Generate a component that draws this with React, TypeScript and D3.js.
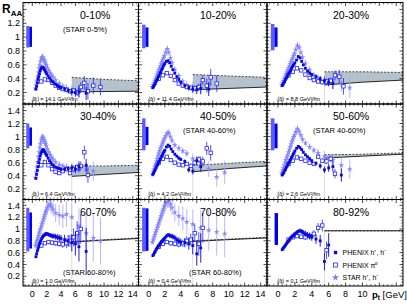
import * as d3 from 'd3';

// pixel edges of the 3x3 pad frames
const colEdges = [23, 138.5, 267, 403];
const rowEdges = [2.5, 104, 199.5, 286];
const xDomain: [number, number] = [-1.3, 14.8];
const yDomain: [number, number] = [0.035, 1.5];

const centralities = ['0-10%', '10-20%', '20-30%', '30-40%', '40-50%', '50-60%', '60-70%', '70-80%', '80-92%'];
const starLabels = ['(STAR 0-5%)', null, null, null, '(STAR 40-60%)', '(STAR 40-60%)', '(STAR 60-80%)', '(STAR 60-80%)', null];
const qhatValues = ['14.1', '11.4', '8.8', '6.4', '4.2', '2.6', '1.0', '0.4', '0.1'];

// PHENIX h+, h- (filled squares)
const hPt = [0.5, 0.6, 0.7, 0.8, 0.9, 1.0, 1.1, 1.2, 1.3, 1.4, 1.5, 1.6, 1.7, 1.8, 1.9, 2.0, 2.2, 2.4, 2.6, 2.8, 3.0, 3.25, 3.5, 3.75, 4.0, 4.5, 5.0, 5.5, 6.0, 6.5, 7.5];
const h00_10 = [0.25, 0.29, 0.34, 0.39, 0.43, 0.47, 0.51, 0.54, 0.56, 0.57, 0.56, 0.55, 0.53, 0.51, 0.49, 0.47, 0.44, 0.41, 0.38, 0.36, 0.34, 0.32, 0.30, 0.28, 0.27, 0.25, 0.23, 0.21, 0.20, 0.21, 0.19];
const h10_20 = [0.27, 0.29, 0.31, 0.33, 0.36, 0.38, 0.40, 0.43, 0.45, 0.48, 0.50, 0.53, 0.55, 0.58, 0.60, 0.62, 0.65, 0.66, 0.63, 0.58, 0.53, 0.48, 0.43, 0.39, 0.35, 0.30, 0.27, 0.25, 0.24, 0.26, 0.25];
const h20_30 = [0.30, 0.32, 0.34, 0.36, 0.39, 0.41, 0.43, 0.46, 0.48, 0.50, 0.52, 0.55, 0.57, 0.59, 0.61, 0.63, 0.67, 0.72, 0.70, 0.65, 0.60, 0.55, 0.51, 0.48, 0.46, 0.43, 0.40, 0.37, 0.35, 0.33, null];
const h30_40 = [0.36, 0.42, 0.48, 0.54, 0.60, 0.65, 0.70, 0.74, 0.77, 0.79, 0.80, 0.79, 0.77, 0.75, 0.73, 0.71, 0.67, 0.63, 0.60, 0.57, 0.55, 0.53, 0.52, 0.51, 0.50, 0.50, 0.51, 0.52, 0.50, 0.54, 0.56];
const h40_50 = [0.42, 0.44, 0.47, 0.49, 0.52, 0.55, 0.57, 0.60, 0.62, 0.65, 0.67, 0.70, 0.72, 0.75, 0.77, 0.79, 0.84, 0.87, 0.85, 0.81, 0.77, 0.73, 0.70, 0.67, 0.65, 0.62, 0.49, 0.47, 0.63, 0.54, null];
const h50_60 = [0.41, 0.43, 0.45, 0.48, 0.50, 0.53, 0.55, 0.58, 0.60, 0.63, 0.65, 0.68, 0.70, 0.73, 0.75, 0.78, 0.82, 0.85, 0.83, 0.80, 0.76, 0.72, 0.69, 0.66, 0.63, 0.59, 0.55, 0.49, 0.52, 0.54, 0.41];
const h60_70 = [0.53, 0.58, 0.63, 0.67, 0.71, 0.75, 0.78, 0.81, 0.84, 0.86, 0.88, 0.89, 0.90, 0.91, 0.92, 0.92, 0.91, 0.90, 0.89, 0.88, 0.88, 0.87, 0.86, 0.85, 0.84, 0.82, 0.80, 0.77, 0.75, 0.70, 0.62];
const h70_80 = [0.55, 0.57, 0.60, 0.62, 0.65, 0.67, 0.69, 0.71, 0.73, 0.75, 0.77, 0.79, 0.80, 0.82, 0.83, 0.85, 0.88, 0.90, 0.89, 0.88, 0.87, 0.85, 0.82, 0.80, 0.78, 0.77, 0.75, 0.72, 0.58, 0.68, null];
const h80_92 = [0.65, 0.67, 0.69, 0.71, 0.73, 0.75, 0.77, 0.79, 0.81, 0.83, 0.85, 0.86, 0.88, 0.89, 0.90, 0.92, 0.94, 0.96, 0.97, 0.96, 0.94, 0.92, 0.90, 0.88, 0.86, 0.83, 0.80, 0.45, 0.73, null, null];
const hErrCentral = [0.01, 0.01, 0.01, 0.01, 0.01, 0.01, 0.01, 0.01, 0.01, 0.01, 0.01, 0.01, 0.01, 0.01, 0.01, 0.012, 0.012, 0.015, 0.015, 0.015, 0.02, 0.02, 0.02, 0.025, 0.025, 0.03, 0.04, 0.05, 0.06, 0.08, 0.1];
const hErrPeriph = [0.02, 0.02, 0.02, 0.02, 0.02, 0.02, 0.02, 0.02, 0.02, 0.025, 0.025, 0.025, 0.03, 0.03, 0.03, 0.03, 0.035, 0.035, 0.04, 0.04, 0.045, 0.05, 0.05, 0.06, 0.06, 0.08, 0.1, 0.15, 0.2, 0.25, 0.4];

// STAR h+, h- (stars)
const starPt = [0.45, 0.55, 0.65, 0.75, 0.85, 0.95, 1.05, 1.15, 1.25, 1.35, 1.45, 1.55, 1.65, 1.75, 1.85, 1.95, 2.1, 2.3, 2.5, 2.7, 2.9, 3.25, 3.75, 4.25, 4.75, 5.5, 6.5, 7.5, 8.5, 9.5];
const star00_10 = [0.26, 0.31, 0.37, 0.43, 0.49, 0.55, 0.60, 0.65, 0.69, 0.71, 0.71, 0.69, 0.67, 0.65, 0.62, 0.60, 0.56, 0.52, 0.48, 0.45, 0.42, 0.38, 0.33, 0.29, 0.26, 0.23, 0.22, null, null, null];
const star10_20 = [0.28, 0.31, 0.34, 0.37, 0.40, 0.43, 0.46, 0.49, 0.52, 0.55, 0.58, 0.61, 0.64, 0.67, 0.70, 0.73, 0.78, 0.83, 0.78, 0.70, 0.63, 0.53, 0.44, 0.36, 0.31, 0.28, 0.27, 0.32, null, null];
const star20_30 = [0.31, 0.34, 0.37, 0.40, 0.43, 0.46, 0.49, 0.52, 0.55, 0.58, 0.61, 0.64, 0.67, 0.70, 0.73, 0.76, 0.82, 0.88, 0.85, 0.78, 0.71, 0.62, 0.53, 0.45, 0.40, 0.37, 0.36, 0.33, 0.27, null];
const star30_40 = [0.37, 0.45, 0.53, 0.61, 0.69, 0.76, 0.83, 0.89, 0.94, 0.98, 1.00, 0.98, 0.95, 0.92, 0.89, 0.86, 0.81, 0.76, 0.72, 0.68, 0.65, 0.61, 0.57, 0.55, 0.53, 0.52, 0.50, 0.49, 0.47, null];
const star40_50 = [0.42, 0.46, 0.50, 0.54, 0.58, 0.62, 0.66, 0.70, 0.74, 0.78, 0.82, 0.85, 0.88, 0.91, 0.94, 0.97, 1.01, 1.05, 1.06, 1.00, 0.94, 0.87, 0.82, 0.78, 0.74, 0.66, 0.60, 0.50, 0.38, 0.45];
const star50_60 = [0.44, 0.48, 0.52, 0.56, 0.60, 0.64, 0.68, 0.72, 0.76, 0.80, 0.84, 0.88, 0.92, 0.96, 0.99, 1.02, 1.07, 1.12, 1.08, 1.02, 0.96, 0.90, 0.84, 0.79, 0.75, 0.70, 0.64, 0.56, 0.50, null];
const star60_70 = [0.72, 0.76, 0.80, 0.84, 0.88, 0.92, 0.96, 1.00, 1.04, 1.08, 1.12, 1.16, 1.20, 1.24, 1.28, 1.31, 1.36, 1.40, 1.42, 1.38, 1.33, 1.27, 1.24, 1.22, 1.25, 1.20, 1.05, 0.93, 0.85, 0.80];
const star70_80 = [0.78, 0.82, 0.86, 0.90, 0.94, 0.98, 1.02, 1.06, 1.10, 1.14, 1.18, 1.22, 1.26, 1.30, 1.34, 1.38, 1.42, 1.46, 1.48, 1.42, 1.36, 1.28, 1.22, 1.18, 1.12, 1.08, 1.02, 0.98, 0.95, 0.92];
const star80_92: (number | null)[] = [];
const starErrCentral = [0.03, 0.03, 0.03, 0.035, 0.035, 0.04, 0.04, 0.045, 0.045, 0.05, 0.05, 0.05, 0.05, 0.05, 0.05, 0.05, 0.05, 0.05, 0.05, 0.05, 0.05, 0.05, 0.05, 0.05, 0.06, 0.08, 0.1, 0.12, 0.15, 0.18];
const starErrPeriph = [0.05, 0.05, 0.05, 0.06, 0.06, 0.06, 0.07, 0.07, 0.07, 0.08, 0.08, 0.08, 0.09, 0.09, 0.09, 0.1, 0.1, 0.1, 0.12, 0.12, 0.12, 0.15, 0.17, 0.2, 0.22, 0.25, 0.3, 0.35, 0.4, 0.4];

// PHENIX pi0 (open squares)
const piPt = [1.25, 1.75, 2.25, 2.75, 3.25, 3.75, 4.25, 4.75, 5.25, 5.75, 6.25, 6.75, 7.25, 7.75, 8.5, 9.5];
const pi00_10 = [0.36, 0.39, 0.38, 0.34, 0.30, 0.27, 0.25, 0.24, 0.22, 0.23, 0.20, 0.28, 0.34, 0.22, 0.30, 0.28];
const pi10_20 = [0.40, 0.45, 0.48, 0.44, 0.38, 0.33, 0.30, 0.28, 0.27, 0.26, 0.28, 0.38, 0.30, 0.42, 0.33, null];
const pi20_30 = [0.45, 0.50, 0.55, 0.52, 0.46, 0.41, 0.38, 0.36, 0.35, 0.36, 0.37, 0.45, 0.43, 0.29, null, null];
const pi30_40 = [0.56, 0.61, 0.56, 0.50, 0.46, 0.44, 0.47, 0.50, 0.44, 0.50, 0.53, 0.55, 0.76, 0.41, null, null];
const pi40_50 = [0.60, 0.66, 0.69, 0.64, 0.60, 0.57, 0.56, 0.58, 0.55, 0.60, 0.65, 0.62, 0.82, 0.75, null, null];
const pi50_60 = [0.58, 0.63, 0.68, 0.66, 0.63, 0.60, 0.58, 0.69, 0.63, 0.62, 0.66, 0.43, null, null, null, null];
const pi60_70 = [0.72, 0.76, 0.78, 0.77, 0.76, 0.75, 0.74, 0.76, 0.80, 0.86, 0.93, 1.00, null, null, null, null];
const pi70_80 = [0.70, 0.75, 0.78, 0.76, 0.75, 0.74, 0.76, 0.80, 0.82, 0.93, 0.75, 1.02, null, null, null, null];
const pi80_92 = [0.82, 0.86, 0.88, 0.87, 0.86, 0.88, 0.92, 1.02, 1.06, 0.64, null, null, null, null, null, null];
const piErrCentral = [0.015, 0.015, 0.015, 0.02, 0.02, 0.02, 0.025, 0.03, 0.035, 0.04, 0.05, 0.07, 0.1, 0.12, 0.12, 0.12];
const piErrPeriph = [0.03, 0.03, 0.035, 0.04, 0.045, 0.05, 0.06, 0.08, 0.1, 0.15, 0.2, 0.25, 0.3, 0.3, 0.3, 0.3];

// theory band (upper edge dashed, lower edge solid)
const bandPt = [5.5, 10, 14.8];
const bandTop = [[0.42, 0.39, 0.37], [0.46, 0.44, 0.42], [0.50, 0.50, 0.49], [0.55, 0.55, 0.56], [0.56, 0.59, 0.62], [0.72, 0.73, 0.75], [0.79, 0.82, 0.85], [0.80, 0.83, 0.86], [0.97, 0.97, 0.97]];
const bandBot = [[0.21, 0.215, 0.22], [0.24, 0.26, 0.28], [0.31, 0.35, 0.38], [0.39, 0.42, 0.45], [0.46, 0.51, 0.55], [0.67, 0.70, 0.73], [0.78, 0.81, 0.84], [0.79, 0.82, 0.85], [0.97, 0.97, 0.97]];

// normalisation uncertainty boxes at R_AA = 1
const normLightLo = [0.85, 0.84, 0.81, 0.82, 0.79, 0.79, 0.62, 0.62, null];
const normLightHi = [1.16, 1.18, 1.19, 1.2, 1.28, 1.28, 1.36, 1.36, null];
const normDarkLo = [0.86, 0.86, 0.86, 0.86, 0.87, 0.82, 0.67, 0.63, 0.73];
const normDarkHi = [1.15, 1.14, 1.14, 1.14, 1.15, 1.2, 1.28, 1.35, 1.27];

const hSeries = [h00_10, h10_20, h20_30, h30_40, h40_50, h50_60, h60_70, h70_80, h80_92];
const starSeries = [star00_10, star10_20, star20_30, star30_40, star40_50, star50_60, star60_70, star70_80, star80_92];
const piSeries = [pi00_10, pi10_20, pi20_30, pi30_40, pi40_50, pi50_60, pi60_70, pi70_80, pi80_92];

const cFilled = '#0808e0';
const cOpen = '#2424ff';
const cStar = '#7c7cff';
const cStarErr = '#a4a4ff';
const font = "'Liberation Sans', Arial, Helvetica, sans-serif";

function Panel({ i }: { i: number }) {
  const col = i % 3;
  const row = Math.floor(i / 3);
  const x0 = colEdges[col], x1 = colEdges[col + 1];
  const y0 = rowEdges[row], y1 = rowEdges[row + 1];
  const x = d3.scaleLinear().domain(xDomain).range([x0, x1]);
  const y = d3.scaleLinear().domain(yDomain).range([y1, y0]);
  const periph = row === 2;
  const hErr = periph ? hErrPeriph : hErrCentral;
  const sErr = periph ? starErrPeriph : starErrCentral;
  const pErr = periph ? piErrPeriph : piErrCentral;

  const band = bandPt.map((p, k) => ({ p, top: bandTop[i][k], bot: bandBot[i][k] }));
  const area = d3.area<any>().x(d => x(d.p)).y0(d => y(d.bot)).y1(d => y(d.top));
  const topLine = d3.line<any>().x(d => x(d.p)).y(d => y(d.top));
  const botLine = d3.line<any>().x(d => x(d.p)).y(d => y(d.bot));
  const starPath = d3.symbol(d3.symbolStar, 11)() as string;

  const xMajor = d3.range(0, 15, 2);
  const xMinor = d3.range(-1, 14.8, 0.5).filter(v => v % 2 !== 0);
  const yMajor = d3.range(0.2, 1.45, 0.2);
  const yMinor = d3.range(0.05, 1.5, 0.05).filter(v => Math.abs(v / 0.2 - Math.round(v / 0.2)) > 0.01);
  const clipId = `clip-${i}`;
  const hasLight = normLightLo[i] != null;

  const titleY = y0 + (row === 2 ? 16.5 : 16);
  const titleX = [80, 200, 333][col];
  const starLabelY = row === 2 ? y1 - 11 : y0 + 29;
  const starLabelX = row === 2 ? [63, 189, 315][col] : [63, 183, 313][col];

  return (
    <g>
      <defs>
        <clipPath id={clipId}>
          <rect x={x0} y={y0} width={x1 - x0} height={y1 - y0} />
        </clipPath>
      </defs>
      <g clipPath={`url(#${clipId})`}>
        <line x1={x(bandPt[0])} x2={x(bandPt[0])} y1={y(bandBot[i][0])} y2={y1} stroke="#d4d4d4" strokeWidth={0.8} />
        <path d={area(band) as string} fill="#b5c2cb" />
        <path d={topLine(band) as string} fill="none" stroke="#222" strokeWidth={0.8} strokeDasharray="2,1.5" />
        <path d={botLine(band) as string} fill="none" stroke="#111" strokeWidth={0.9} />

        {hasLight && (
          <rect x={x(-0.85)} y={y(normLightHi[i] as number)} width={x(-0.42) - x(-0.85)}
            height={y(normLightLo[i] as number) - y(normLightHi[i] as number)} fill="#5c5cff" />
        )}
        <rect x={x(hasLight ? -0.42 : -0.4)} y={y(normDarkHi[i])}
          width={x(hasLight ? -0.05 : 0) - x(hasLight ? -0.42 : -0.4)}
          height={y(normDarkLo[i]) - y(normDarkHi[i])} fill="#0000e8" />

        {starPt.map((p, k) => {
          const v = starSeries[i][k];
          if (v == null) return null;
          return (
            <g key={`s${k}`}>
              <line x1={x(p)} x2={x(p)} y1={y(v - sErr[k])} y2={y(v + sErr[k])} stroke={cStarErr} strokeWidth={0.8} />
              <path d={starPath} transform={`translate(${x(p)},${y(v)})`} fill={cStar} fillOpacity={0.85} />
            </g>
          );
        })}

        {piPt.map((p, k) => {
          const v = piSeries[i][k];
          if (v == null) return null;
          return (
            <g key={`p${k}`}>
              <line x1={x(p)} x2={x(p)} y1={y(v - pErr[k])} y2={y(v + pErr[k])} stroke={cOpen} strokeWidth={0.8} />
              <rect x={x(p) - 1.7} y={y(v) - 1.7} width={3.4} height={3.4} fill="#fff" stroke={cOpen} strokeWidth={0.8} />
            </g>
          );
        })}

        {hPt.map((p, k) => {
          const v = hSeries[i][k];
          if (v == null) return null;
          return (
            <g key={`h${k}`}>
              <line x1={x(p)} x2={x(p)} y1={y(v - hErr[k])} y2={y(v + hErr[k])} stroke={cFilled} strokeWidth={0.9} />
              <rect x={x(p) - 1.4} y={y(v) - 1.4} width={2.8} height={2.8} fill={cFilled} />
            </g>
          );
        })}
      </g>

      {/* ticks on all four sides, pointing inwards */}
      {xMajor.map(v => (
        <g key={`xM${v}`} stroke="#000" strokeWidth={0.7}>
          <line x1={x(v)} x2={x(v)} y1={y1} y2={y1 - 3.5} />
          <line x1={x(v)} x2={x(v)} y1={y0} y2={y0 + 3.5} />
        </g>
      ))}
      {xMinor.map(v => (
        <g key={`xm${v}`} stroke="#000" strokeWidth={0.6}>
          <line x1={x(v)} x2={x(v)} y1={y1} y2={y1 - 1.8} />
          <line x1={x(v)} x2={x(v)} y1={y0} y2={y0 + 1.8} />
        </g>
      ))}
      {yMajor.map(v => (
        <g key={`yM${v}`} stroke="#000" strokeWidth={0.7}>
          <line x1={x0} x2={x0 + 3.5} y1={y(v)} y2={y(v)} />
          <line x1={x1} x2={x1 - 3.5} y1={y(v)} y2={y(v)} />
        </g>
      ))}
      {yMinor.map(v => (
        <g key={`ym${v}`} stroke="#000" strokeWidth={0.6}>
          <line x1={x0} x2={x0 + 1.8} y1={y(v)} y2={y(v)} />
          <line x1={x1} x2={x1 - 1.8} y1={y(v)} y2={y(v)} />
        </g>
      ))}
      <rect x={x0} y={y0} width={x1 - x0} height={y1 - y0} fill="none" stroke="#000" strokeWidth={1} />

      {col === 0 && yMajor.filter(v => row > 0 || v < 1.3).map(v => (
        <text key={`yl${v}`} x={x0 - 3} y={y(v) + 3.2} textAnchor="end" fontSize={9}>
          {d3.format('~g')(+v.toFixed(1))}
        </text>
      ))}
      {row === 2 && xMajor.filter(v => col < 2 || v <= 10).map(v => (
        <text key={`xl${v}`} x={x(v)} y={y1 + 11} textAnchor="middle" fontSize={9}>{v}</text>
      ))}

      <text x={titleX} y={titleY} fontSize={10.5}>{centralities[i]}</text>
      {starLabels[i] && (
        <text x={starLabelX} y={starLabelY} fontSize={7.5}>{starLabels[i]}</text>
      )}
      <text x={x(-0.1)} y={y1 - 3.5} fontSize={5.5}>
        {'\u27E8q\u0302\u27E9 = ' + qhatValues[i] + ' GeV\u00B2/fm'}
      </text>
    </g>
  );
}

function Legend() {
  const lx = 335.5;
  const rows = [252.5, 265, 277.5];
  const starPath = d3.symbol(d3.symbolStar, 16)() as string;
  return (
    <g fontSize={7}>
      <rect x={lx - 1.7} y={rows[0] - 1.7} width={3.4} height={3.4} fill={cFilled} />
      <text x={lx + 7} y={rows[0] + 2.5}>PHENIX h⁺, h⁻</text>
      <rect x={lx - 2} y={rows[1] - 2} width={4} height={4} fill="#fff" stroke={cOpen} strokeWidth={0.8} />
      <text x={lx + 7} y={rows[1] + 2.5}>PHENIX π⁰</text>
      <path d={starPath} transform={`translate(${lx},${rows[2]})`} fill={cStar} />
      <text x={lx + 7} y={rows[2] + 2.5}>STAR h⁺, h⁻</text>
    </g>
  );
}

export default function App() {
  return (
    <svg width={407} height={305} fontFamily={font}
      style={{ position: 'absolute', left: 0, top: 0, background: '#fff' }}>
      <rect width={407} height={305} fill="#fff" />
      {centralities.map((_, i) => <Panel key={i} i={i} />)}
      <Legend />
      <text x={2} y={13} fontSize={12} fontWeight="bold">
        R<tspan fontSize={8} dy={3}>AA</tspan>
      </text>
      <text x={372} y={298} fontSize={9.5} fontWeight="bold">
        p<tspan fontSize={6.5} dy={2}>t</tspan><tspan dy={-2} fontWeight="normal"> [GeV]</tspan>
      </text>
    </svg>
  );
}
